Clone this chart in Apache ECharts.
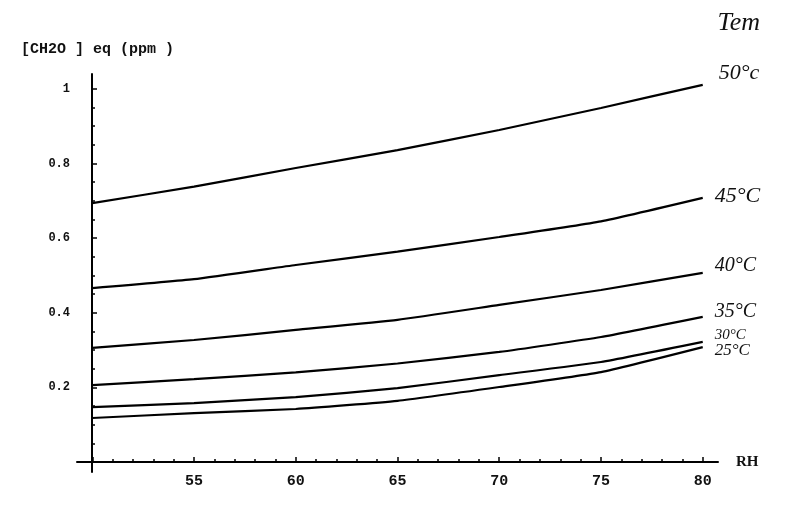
<!DOCTYPE html>
<html>
<head>
<meta charset="utf-8">
<script src="https://cdn.jsdelivr.net/npm/echarts@6/dist/echarts.min.js"></script>
<style>html,body{margin:0;padding:0;background:#fff}#c{width:800px;height:521px}</style>
</head>
<body>
<div id="c"></div>
<script>
// Data
var rh = [50, 55, 60, 65, 70, 75, 80];
var t50 = [0.694, 0.738, 0.788, 0.836, 0.890, 0.949, 1.011];
var t45 = [0.466, 0.490, 0.528, 0.564, 0.603, 0.645, 0.708];
var t40 = [0.306, 0.327, 0.354, 0.381, 0.421, 0.461, 0.507];
var t35 = [0.206, 0.222, 0.240, 0.264, 0.295, 0.335, 0.389];
var t30 = [0.147, 0.158, 0.174, 0.198, 0.233, 0.268, 0.322];
var t25 = [0.118, 0.131, 0.142, 0.164, 0.201, 0.241, 0.308];
var seriesNames = ['50°c', '45°C', '40°C', '35°C', '30°C', '25°C'];
var xMajorTicks = [50, 55, 60, 65, 70, 75, 80];
var xTickLabels = [55, 60, 65, 70, 75, 80];
var xMinorTicks = [51,52,53,54,56,57,58,59,61,62,63,64,66,67,68,69,71,72,73,74,76,77,78,79];
var yMajorTicks = [0.2, 0.4, 0.6, 0.8, 1];
var yTickLabels = [0.2, 0.4, 0.6, 0.8, 1];
var yMinorTicks = [0.05,0.1,0.15,0.25,0.3,0.35,0.45,0.5,0.55,0.65,0.7,0.75,0.85,0.9,0.95];

var allSeries = [t50, t45, t40, t35, t30, t25];
var labelOffsets = [[12, -12], [8, -2], [8, -7], [8, -5], [8, -7], [8, 3]];
var labelSizes = [22, 22, 20, 20, 15, 17];

function pairs(ys) { return rh.map(function (x, i) { return [x, ys[i]]; }); }

var chart = echarts.init(document.getElementById('c'), null, {renderer: 'canvas'});
var gridBox = {left: 77, right: 82, top: 74, height: 398};
var X_MIN = 49.25, X_MAX = 80.75, Y_MIN = -0.0268, Y_MAX = 1.04;
var mono = 'Liberation Mono';

chart.setOption({
  backgroundColor: '#ffffff',
  animation: false,
  title: {
    text: '[CH2O ] eq (ppm )',
    left: 16, top: 37,
    textStyle: {fontFamily: mono, fontSize: 15, fontWeight: 'bold', color: '#111'}
  },
  graphic: [{
    type: 'text', right: 40, top: 10,
    style: {text: 'Tem', fontFamily: 'Liberation Serif', fontStyle: 'italic', fontSize: 26, fill: '#111'}
  }],
  grid: [
    Object.assign({}, gridBox),
    Object.assign({}, gridBox)
  ],
  xAxis: [{
    type: 'value', gridIndex: 0, min: X_MIN, max: X_MAX, position: 'bottom', offset: -10,
    axisLine: {show: true, lineStyle: {color: '#000', width: 2}},
    axisTick: {show: true, inside: true, length: 5, customValues: xMajorTicks, lineStyle: {color: '#000', width: 1.5}},
    axisLabel: {customValues: xTickLabels, margin: 12, fontFamily: mono, fontWeight: 'bold', fontSize: 15, color: '#111'},
    splitLine: {show: false},
    name: 'RH', nameLocation: 'end', nameGap: 18,
    nameTextStyle: {fontFamily: 'Liberation Serif', fontWeight: 'bold', fontSize: 15, color: '#111', verticalAlign: 'middle'}
  }, {
    type: 'value', gridIndex: 1, min: X_MIN, max: X_MAX, position: 'bottom', offset: -10,
    axisLine: {show: false},
    axisTick: {show: true, inside: true, length: 3, customValues: xMinorTicks, lineStyle: {color: '#000', width: 1.5}},
    axisLabel: {show: false},
    splitLine: {show: false}
  }],
  yAxis: [{
    type: 'value', gridIndex: 0, min: Y_MIN, max: Y_MAX, position: 'left', offset: -15,
    axisLine: {show: true, lineStyle: {color: '#000', width: 2}},
    axisTick: {show: true, inside: true, length: 5, customValues: yMajorTicks, lineStyle: {color: '#000', width: 1.5}},
    axisLabel: {customValues: yTickLabels, margin: 22, fontFamily: mono, fontWeight: 'bold', fontSize: 12, color: '#111'},
    splitLine: {show: false}
  }, {
    type: 'value', gridIndex: 1, min: Y_MIN, max: Y_MAX, position: 'left', offset: -15,
    axisLine: {show: false},
    axisTick: {show: true, inside: true, length: 3, customValues: yMinorTicks, lineStyle: {color: '#000', width: 1.5}},
    axisLabel: {show: false},
    splitLine: {show: false}
  }],
  series: allSeries.map(function (ys, i) {
    return {
      type: 'line', name: seriesNames[i], xAxisIndex: 0, yAxisIndex: 0,
      data: pairs(ys), smooth: 0.15, showSymbol: false, symbol: 'none',
      lineStyle: {color: '#000', width: 2.2},
      endLabel: {
        show: true, formatter: seriesNames[i], distance: 4, offset: labelOffsets[i],
        fontFamily: 'Liberation Serif', fontStyle: 'italic', fontSize: labelSizes[i], color: '#111'
      }
    };
  })
});
</script>
</body>
</html>
